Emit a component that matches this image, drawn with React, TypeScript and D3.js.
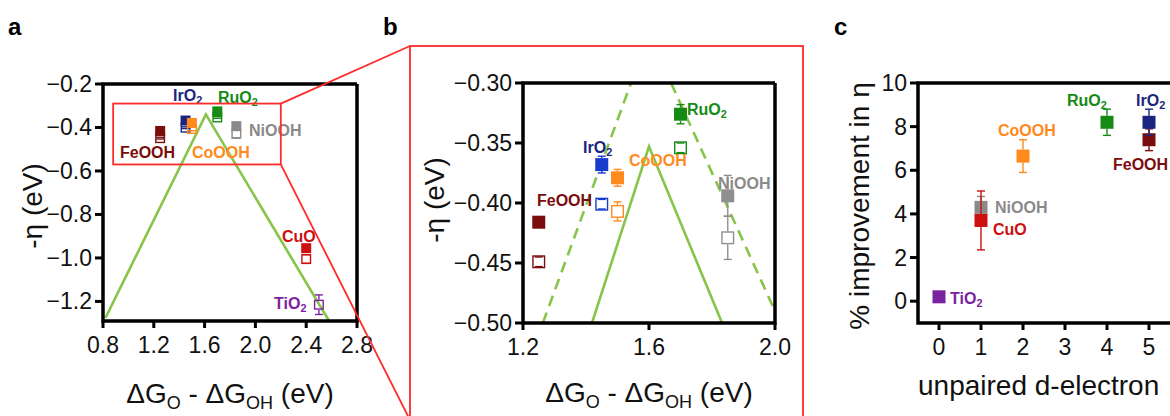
import React from "react";
import * as d3 from "d3";

// materials, in the same order everywhere
const materials = ["FeOOH", "IrO2", "CoOOH", "RuO2", "NiOOH", "CuO", "TiO2"];
const deltaG = [1.25, 1.45, 1.5, 1.7, 1.85, 2.4, 2.5];
const etaFilled = [-0.416, -0.368, -0.379, -0.326, -0.394, -0.955, NaN];
const etaFilledErr = [0.004, 0.007, 0.007, 0.008, 0.017, 0.01, 0];
const etaOpen = [-0.449, -0.401, -0.407, -0.354, -0.429, -1.005, -1.215];
const etaOpenErr = [0.004, 0.004, 0.008, 0.004, 0.018, 0.02, 0.045];

// panel c
const unpaired = [5, 5, 2, 4, 1, 1, 0];
const improvement = [7.4, 8.2, 6.65, 8.2, 4.3, 3.7, 0.2];
const improvementErr = [0.5, 0.6, 0.75, 0.6, 0.5, 1.35, 0.15];

// volcano lines
const volcanoAX = [0.82, 1.61, 2.58];
const volcanoAY = [-1.275, -0.34, -1.29];
const volcanoBX = [1.419, 1.6, 1.832];
const volcanoBY = [-0.5, -0.353, -0.5];
const dashLeftX = [1.263, 1.543];
const dashLeftY = [-0.5, -0.3];
const dashRightX = [1.67, 2.0];
const dashRightY = [-0.3, -0.49];

// zoom window drawn on panel a
const zoomX = [0.88, 2.2];
const zoomY = [-0.29, -0.57];

const aXTicks = [0.8, 1.2, 1.6, 2.0, 2.4, 2.8];
const aYTicks = [-0.2, -0.4, -0.6, -0.8, -1.0, -1.2];
const bXTicks = [1.2, 1.6, 2.0];
const bYTicks = [-0.3, -0.35, -0.4, -0.45, -0.5];
const cXTicks = [0, 1, 2, 3, 4, 5];
const cYTicks = [0, 2, 4, 6, 8, 10];

const colors = {
  FeOOH: "#7b0c0c",
  IrO2: "#1b247f",
  CoOOH: "#ff8a1e",
  RuO2: "#158a15",
  NiOOH: "#8a8a8a",
  CuO: "#cc1010",
  TiO2: "#7a23a0",
};
const colorsB = { ...colors, IrO2: "#1a3ccc", NiOOH: "#8f8f8f" };

// label anchors (left edge, vertical centre) in pixels
const labelsA = {
  IrO2: [173, 95], RuO2: [218, 97], NiOOH: [249, 130], FeOOH: [120, 152],
  CoOOH: [192, 152], CuO: [282, 236], TiO2: [274, 303],
};
const labelsB = {
  FeOOH: [537, 200], IrO2: [583, 147], CoOOH: [629, 160], RuO2: [687, 109], NiOOH: [718, 183],
};
const labelsC = {
  TiO2: [950, 298], CuO: [993, 229], NiOOH: [995, 207], CoOOH: [998, 130],
  RuO2: [1067, 100], IrO2: [1136, 100], FeOOH: [1113, 164],
};

const FONT = "'Liberation Sans', Arial, Helvetica, sans-serif";
const GREEN = "#86c54a";
const RED = "#ff2a2a";

const xA = d3.scaleLinear().domain([0.8, 2.8]).range([103, 357]);
const yA = d3.scaleLinear().domain([-0.2, -1.29]).range([84, 321]);
const xB = d3.scaleLinear().domain([1.2, 2.0]).range([523, 775]);
const yB = d3.scaleLinear().domain([-0.3, -0.5]).range([83, 323]);
const xC = d3.scaleLinear().domain([-0.5, 5.5]).range([918, 1170]);
const yC = d3.scaleLinear().domain([10, -1]).range([83, 323]);

const Chem = ({ x, y, name, color, size = 16 }) => {
  const m = name.match(/^(.*?)(\d)$/);
  return (
    <text x={x} y={y} fill={color} fontSize={size} fontWeight="bold" dominantBaseline="central">
      {m ? (
        <>
          {m[1]}
          <tspan fontSize={size * 0.68} dy={size * 0.32}>{m[2]}</tspan>
        </>
      ) : name}
    </text>
  );
};

// square marker with prism-like error bars (bars stop at the symbol edge)
const Marker = ({ cx, cy, top, bottom, size, color, open }) => {
  const h = size / 2;
  const cap = 4;
  return (
    <g stroke={color} strokeWidth={1.4}>
      {top < cy - h && <line x1={cx} x2={cx} y1={top} y2={cy - h} />}
      {bottom > cy + h && <line x1={cx} x2={cx} y1={cy + h} y2={bottom} />}
      <line x1={cx - cap} x2={cx + cap} y1={top} y2={top} />
      <line x1={cx - cap} x2={cx + cap} y1={bottom} y2={bottom} />
      {open ? (
        <rect x={cx - h + 0.7} y={cy - h + 0.7} width={size - 1.4} height={size - 1.4} fill="none" strokeWidth={1.4} />
      ) : (
        <rect x={cx - h} y={cy - h} width={size} height={size} fill={color} stroke="none" />
      )}
    </g>
  );
};

const Axes = ({ x, y, xTicks, yTicks, xFmt, yFmt, right }) => {
  const [x0, x1] = x.range();
  const [y0, y1] = y.range();
  const top = Math.min(y0, y1);
  const bottom = Math.max(y0, y1);
  const r = right ?? x1;
  return (
    <g fontFamily={FONT} fontSize={23} fill="#111">
      <path d={`M${r},${top}H${x0}V${bottom}H${r}${right ? "" : `V${top}`}`} fill="none" stroke="#000" strokeWidth={3.5} />
      {yTicks.map((t) => (
        <g key={"y" + t}>
          <line x1={x0 - 8} x2={x0} y1={y(t)} y2={y(t)} stroke="#000" strokeWidth={3} />
          <text x={x0 - 11} y={y(t)} textAnchor="end" dominantBaseline="central">{yFmt(t)}</text>
        </g>
      ))}
      {xTicks.map((t) => (
        <g key={"x" + t}>
          <line x1={x(t)} x2={x(t)} y1={bottom} y2={bottom + 7} stroke="#000" strokeWidth={3} />
          <text x={x(t)} y={bottom + 32} textAnchor="middle">{xFmt(t)}</text>
        </g>
      ))}
    </g>
  );
};

const DeltaTitle = ({ x, y }) => (
  <text x={x} y={y} textAnchor="middle" fontFamily={FONT} fontSize={28} fill="#111">
    ΔG<tspan fontSize={18} dy={6}>O</tspan>
    <tspan dy={-6}> - ΔG</tspan>
    <tspan fontSize={18} dy={6}>OH</tspan>
    <tspan dy={-6}> (eV)</tspan>
  </text>
);

const YTitle = ({ x, y, children }) => (
  <text transform={`translate(${x},${y}) rotate(-90)`} textAnchor="middle" fontFamily={FONT} fontSize={28} fill="#111">
    {children}
  </text>
);

const line = d3.line();

export default function App() {
  const idx = materials.map((_, i) => i);
  const inB = idx.filter((i) => deltaG[i] <= 2.0);
  const fmt1 = d3.format(".1f");
  const fmt2 = d3.format(".2f");
  const fmt0 = d3.format("d");

  const zx0 = xA(zoomX[0]), zx1 = xA(zoomX[1]);
  const zy0 = yA(zoomY[0]), zy1 = yA(zoomY[1]);
  const bigLeft = 410, bigTop = 46, bigRight = 803, bigBottom = 420;

  return (
    <svg width={1170} height={416} style={{ position: "absolute", left: 0, top: 0, background: "#fff" }} fontFamily={FONT}>
      <defs>
        <clipPath id="clipA"><rect x={103} y={84} width={254} height={237} /></clipPath>
        <clipPath id="clipB"><rect x={523} y={83} width={252} height={240} /></clipPath>
      </defs>

      {/* panel letters */}
      <g fontSize={24} fontWeight="bold" fill="#000">
        <text x={8} y={35}>a</text>
        <text x={383} y={35}>b</text>
        <text x={834} y={35}>c</text>
      </g>

      {/* ---- panel a ---- */}
      <path d={line(volcanoAX.map((v, i) => [xA(v), yA(volcanoAY[i])]))} fill="none" stroke={GREEN} strokeWidth={2.6} clipPath="url(#clipA)" />
      {idx.map((i) => (
        <g key={"ao" + i}>
          <Marker cx={xA(deltaG[i])} cy={yA(etaOpen[i])} top={yA(etaOpen[i] + etaOpenErr[i])} bottom={yA(etaOpen[i] - etaOpenErr[i])} size={10} color={colors[materials[i]]} open />
        </g>
      ))}
      {idx.filter((i) => !isNaN(etaFilled[i])).map((i) => (
        <Marker key={"af" + i} cx={xA(deltaG[i])} cy={yA(etaFilled[i])} top={yA(etaFilled[i] + etaFilledErr[i])} bottom={yA(etaFilled[i] - etaFilledErr[i])} size={10} color={colors[materials[i]]} />
      ))}
      {materials.map((m) => (
        <Chem key={"al" + m} x={labelsA[m][0]} y={labelsA[m][1]} name={m} color={colors[m]} />
      ))}
      <Axes x={xA} y={yA} xTicks={aXTicks} yTicks={aYTicks} xFmt={fmt1} yFmt={fmt1} />
      <YTitle x={42} y={206}>-η (eV)</YTitle>
      <DeltaTitle x={230} y={403} />

      {/* zoom annotation */}
      <g stroke={RED} strokeWidth={1.8} fill="none">
        <rect x={zx0} y={zy0} width={zx1 - zx0} height={zy1 - zy0} />
        <line x1={zx1} y1={zy0} x2={bigLeft} y2={bigTop} />
        <line x1={zx1} y1={zy1} x2={bigLeft} y2={bigBottom} />
        <rect x={bigLeft} y={bigTop} width={bigRight - bigLeft} height={bigBottom - bigTop} />
      </g>

      {/* ---- panel b ---- */}
      <g clipPath="url(#clipB)" fill="none" stroke={GREEN} strokeWidth={2.6}>
        <path d={line(volcanoBX.map((v, i) => [xB(v), yB(volcanoBY[i])]))} />
        <path d={line(dashLeftX.map((v, i) => [xB(v), yB(dashLeftY[i])]))} strokeDasharray="11 7" />
        <path d={line(dashRightX.map((v, i) => [xB(v), yB(dashRightY[i])]))} strokeDasharray="11 7" />
      </g>
      {inB.map((i) => (
        <Marker key={"bo" + i} cx={xB(deltaG[i])} cy={yB(etaOpen[i])} top={yB(etaOpen[i] + etaOpenErr[i])} bottom={yB(etaOpen[i] - etaOpenErr[i])} size={13} color={colorsB[materials[i]]} open />
      ))}
      {inB.map((i) => (
        <Marker key={"bf" + i} cx={xB(deltaG[i])} cy={yB(etaFilled[i])} top={yB(etaFilled[i] + etaFilledErr[i])} bottom={yB(etaFilled[i] - etaFilledErr[i])} size={13} color={colorsB[materials[i]]} />
      ))}
      {inB.map((i) => (
        <Chem key={"bl" + i} x={labelsB[materials[i]][0]} y={labelsB[materials[i]][1]} name={materials[i]} color={colors[materials[i]]} />
      ))}
      <Axes x={xB} y={yB} xTicks={bXTicks} yTicks={bYTicks} xFmt={fmt1} yFmt={fmt2} />
      <YTitle x={444} y={200}>-η (eV)</YTitle>
      <DeltaTitle x={649} y={402} />

      {/* ---- panel c ---- */}
      {idx.map((i) => (
        <Marker key={"c" + i} cx={xC(unpaired[i])} cy={yC(improvement[i])} top={yC(improvement[i] + improvementErr[i])} bottom={yC(improvement[i] - improvementErr[i])} size={13} color={colors[materials[i]]} />
      ))}
      {materials.map((m) => (
        <Chem key={"cl" + m} x={labelsC[m][0]} y={labelsC[m][1]} name={m} color={colors[m]} />
      ))}
      <Axes x={xC} y={yC} xTicks={cXTicks} yTicks={cYTicks} xFmt={fmt0} yFmt={fmt0} right={1175} />
      <YTitle x={869} y={206}>% improvement in η</YTitle>
      <text x={918} y={395} fontFamily={FONT} fontSize={28} fill="#111">unpaired d-electron</text>
    </svg>
  );
}
